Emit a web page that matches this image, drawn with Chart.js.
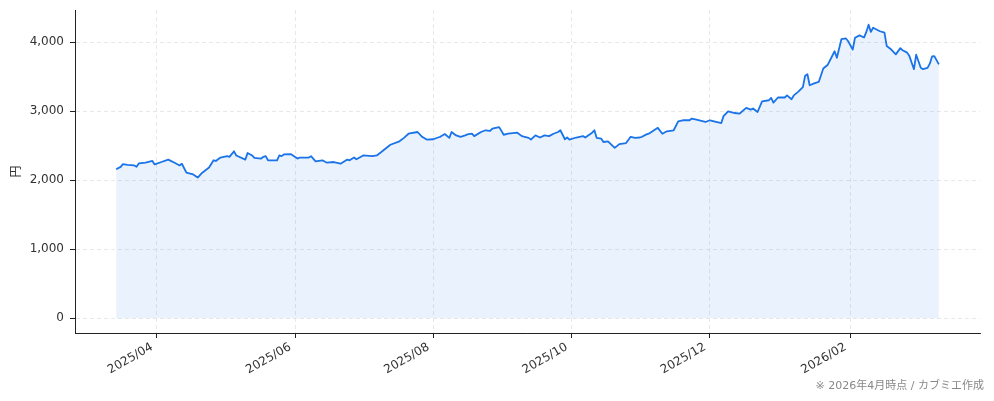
<!DOCTYPE html>
<html>
<head>
<meta charset="utf-8">
<script src="https://cdn.jsdelivr.net/npm/chart.js@4.4.1/dist/chart.umd.min.js"></script>
<style>
  html, body { margin: 0; padding: 0; background: #ffffff; }
  #wrap { width: 994px; height: 401px; position: relative; }
</style>
</head>
<body>
<div id="wrap"><canvas id="c"></canvas></div>
<script>
// ---- data ----
const dates = [
  '2025-03-14','2025-03-16','2025-03-17','2025-03-19','2025-03-22','2025-03-23','2025-03-24','2025-03-27','2025-03-30','2025-03-31',
  '2025-04-03','2025-04-06','2025-04-09','2025-04-11','2025-04-12','2025-04-14','2025-04-17','2025-04-19','2025-04-21','2025-04-24',
  '2025-04-26','2025-04-27','2025-04-29','2025-05-02','2025-05-03','2025-05-05','2025-05-06','2025-05-10','2025-05-11','2025-05-13',
  '2025-05-14','2025-05-17','2025-05-18','2025-05-19','2025-05-20','2025-05-24','2025-05-25','2025-05-26','2025-05-27','2025-05-30',
  '2025-06-02','2025-06-03','2025-06-07','2025-06-08','2025-06-10','2025-06-13','2025-06-15','2025-06-18','2025-06-21','2025-06-24',
  '2025-06-25','2025-06-27','2025-06-28','2025-07-01','2025-07-05','2025-07-07','2025-07-09','2025-07-13','2025-07-17','2025-07-19',
  '2025-07-21','2025-07-25','2025-07-27','2025-07-29','2025-08-01','2025-08-03','2025-08-04','2025-08-06','2025-08-08','2025-08-09',
  '2025-08-11','2025-08-13','2025-08-15','2025-08-16','2025-08-18','2025-08-19','2025-08-22','2025-08-24','2025-08-26','2025-08-27',
  '2025-08-30','2025-09-01','2025-09-03','2025-09-05','2025-09-07','2025-09-09','2025-09-12','2025-09-13','2025-09-15','2025-09-17',
  '2025-09-19','2025-09-21','2025-09-23','2025-09-25','2025-09-26','2025-09-28','2025-09-29','2025-09-30','2025-10-03','2025-10-06',
  '2025-10-07','2025-10-10','2025-10-11','2025-10-12','2025-10-14','2025-10-15','2025-10-17','2025-10-20','2025-10-22','2025-10-25',
  '2025-10-27','2025-10-29','2025-10-31','2025-11-01','2025-11-03','2025-11-04','2025-11-08','2025-11-10','2025-11-12','2025-11-15',
  '2025-11-17','2025-11-19','2025-11-22','2025-11-23','2025-11-25','2025-11-29','2025-12-01','2025-12-06','2025-12-07','2025-12-09',
  '2025-12-12','2025-12-14','2025-12-17','2025-12-19','2025-12-20','2025-12-22','2025-12-24','2025-12-27','2025-12-28','2025-12-29',
  '2025-12-31','2026-01-03','2026-01-04','2026-01-06','2026-01-07','2026-01-09','2026-01-11','2026-01-12','2026-01-13','2026-01-14',
  '2026-01-16','2026-01-18','2026-01-20','2026-01-22','2026-01-25','2026-01-26','2026-01-28','2026-01-30','2026-01-31','2026-02-02',
  '2026-02-03','2026-02-05','2026-02-07','2026-02-08','2026-02-09','2026-02-10','2026-02-11','2026-02-14','2026-02-16','2026-02-17',
  '2026-02-19','2026-02-21','2026-02-23','2026-02-24','2026-02-26','2026-02-27','2026-03-01','2026-03-02','2026-03-04','2026-03-05',
  '2026-03-07','2026-03-08','2026-03-09','2026-03-10','2026-03-12'
];
const prices = [
  2160,2195,2235,2225,2215,2195,2245,2255,2280,2230,
  2265,2300,2250,2215,2240,2110,2085,2040,2110,2185,
  2290,2280,2330,2350,2340,2420,2360,2300,2395,2360,
  2325,2315,2340,2350,2290,2290,2360,2350,2375,2380,
  2315,2330,2330,2350,2275,2290,2255,2265,2240,2300,
  2290,2330,2305,2360,2350,2360,2410,2515,2565,2615,
  2675,2700,2630,2590,2595,2620,2630,2670,2615,2700,
  2650,2630,2650,2665,2675,2640,2700,2725,2715,2750,
  2770,2660,2675,2685,2690,2640,2615,2590,2650,2620,
  2650,2640,2675,2700,2725,2595,2620,2590,2620,2640,
  2620,2690,2725,2615,2605,2555,2565,2470,2525,2540,
  2630,2615,2620,2630,2665,2675,2760,2675,2710,2725,
  2855,2870,2870,2895,2880,2845,2870,2830,2930,3000,
  2975,2965,3050,3025,3040,2990,3145,3160,3195,3125,
  3200,3200,3230,3175,3230,3285,3350,3515,3536,3377,
  3405,3425,3620,3675,3870,3775,4045,4055,4015,3895,
  4065,4100,4070,4150,4255,4150,4210,4160,4140,3945,
  3895,3825,3915,3885,3850,3800,3610,3820,3630,3610,
  3630,3690,3795,3800,3680
];
const xTickDates = ['2025-04-01','2025-06-01','2025-08-01','2025-10-01','2025-12-01','2026-02-01'];
const xTickLabels = ['2025/04','2025/06','2025/08','2025/10','2025/12','2026/02'];
const yTickValues = [0, 1000, 2000, 3000, 4000];
const yAxisTitle = '円';
const footnote = '※ 2026年4月時点 / カブミエ作成';

// ---- helpers ----
const BASE = Date.UTC(2025, 3, 1);
function dayNum(s) {
  const [y, m, d] = s.split('-').map(Number);
  return (Date.UTC(y, m - 1, d) - BASE) / 86400000;
}
const points = dates.map((d, i) => ({ x: dayNum(d), y: prices[i] }));
const xs = points.map(p => p.x);
const xMinData = Math.min(...xs), xMaxData = Math.max(...xs);
const xPad = (xMaxData - xMinData) * 0.05;
const yMaxData = Math.max(...prices);
const yPad = yMaxData * 0.05;

const FONT = '"DejaVu Sans", "Noto Sans CJK JP", sans-serif';

const footnotePlugin = {
  id: 'footnote',
  afterDraw(chart) {
    const ctx = chart.ctx;
    ctx.save();
    ctx.font = '11px ' + FONT;
    ctx.fillStyle = '#888888';
    ctx.textAlign = 'right';
    ctx.textBaseline = 'alphabetic';
    ctx.fillText(footnote, 984, 389);
    ctx.restore();
  }
};

const gridOpts = { color: '#e2e2e2', lineWidth: 0.8, tickLength: 5, tickColor: '#222222', tickWidth: 1, tickBorderDash: [] };
const borderOpts = { display: true, color: '#222222', width: 1, dash: [4, 3] };
function noPad(s) { s.paddingTop = 0; s.paddingBottom = 0; s.paddingLeft = 0; s.paddingRight = 0; }

new Chart(document.getElementById('c'), {
  type: 'line',
  data: {
    datasets: [{
      data: points,
      borderColor: '#1a73e8',
      backgroundColor: 'rgba(26,115,232,0.09)',
      borderWidth: 1.8,
      pointRadius: 0,
      tension: 0,
      fill: 'origin',
      borderJoinStyle: 'round'
    }]
  },
  options: {
    responsive: true,
    maintainAspectRatio: false,
    animation: false,
    devicePixelRatio: 1,
    layout: { padding: { left: 0, right: 14, top: 10, bottom: 0 } },
    plugins: { legend: { display: false }, tooltip: { enabled: false } },
    scales: {
      x: {
        type: 'linear',
        min: xMinData - xPad,
        max: xMaxData + xPad,
        afterBuildTicks: s => { s.ticks = xTickDates.map(d => ({ value: dayNum(d) })); },
        afterFit: s => { s.height = 68; noPad(s); },
        ticks: {
          callback: (v, i) => xTickLabels[i],
          minRotation: 30, maxRotation: 30,
          autoSkip: false,
          padding: 2,
          labelOffset: -5,
          color: '#333333',
          font: { family: FONT, size: 12 }
        },
        grid: gridOpts,
        border: borderOpts
      },
      y: {
        type: 'linear',
        min: -yPad,
        max: yMaxData + yPad,
        afterBuildTicks: s => { s.ticks = yTickValues.map(v => ({ value: v })); },
        afterFit: s => { s.width = 75; noPad(s); },
        ticks: {
          callback: v => v.toLocaleString('en-US'),
          padding: 6,
          color: '#333333',
          font: { family: FONT, size: 12 }
        },
        title: {
          display: true,
          text: yAxisTitle,
          color: '#333333',
          font: { family: FONT, size: 12 },
          padding: { top: 10, bottom: 0 }
        },
        grid: gridOpts,
        border: borderOpts
      }
    }
  },
  plugins: [footnotePlugin]
});
</script>
</body>
</html>
